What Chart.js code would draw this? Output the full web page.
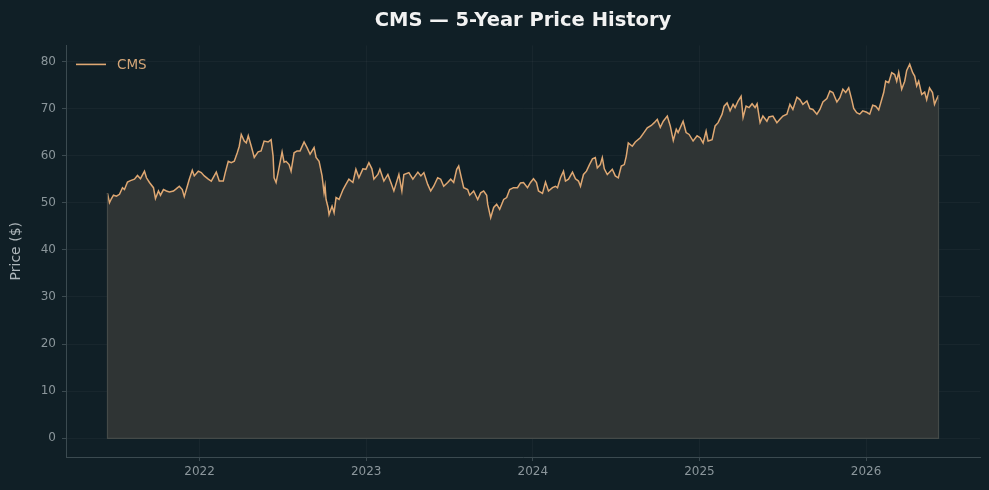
<!DOCTYPE html>
<html>
<head>
<meta charset="utf-8">
<script src="https://cdn.jsdelivr.net/npm/chart.js@4.4.1/dist/chart.umd.min.js"></script>
<style>
  html,body{margin:0;padding:0;background:#101f26;}
  #wrap{width:989px;height:490px;position:relative;}
</style>
</head>
<body>
<div id="wrap"><canvas id="chart" width="989" height="490"></canvas></div>
<script>
// ---- data (decimal years / close price) ----
const TICKER = "CMS";
const YEAR_TICKS = [2022, 2023, 2024, 2025, 2026];
const Y_TICKS = [0, 10, 20, 30, 40, 50, 60, 70, 80];

const T = [
  2021.447,2021.459,2021.471,2021.483,2021.501,2021.519,2021.537,2021.549,2021.567,2021.585,
  2021.609,2021.627,2021.645,2021.669,2021.681,2021.699,2021.723,2021.735,2021.753,2021.765,
  2021.783,2021.801,2021.819,2021.843,2021.861,2021.878,2021.896,2021.908,2021.926,2021.938,
  2021.956,2021.968,2021.992,2022.010,2022.028,2022.052,2022.070,2022.100,2022.118,2022.142,
  2022.154,2022.172,2022.190,2022.208,2022.226,2022.238,2022.250,2022.268,2022.280,2022.292,
  2022.310,2022.328,2022.351,2022.369,2022.387,2022.411,2022.429,2022.441,2022.447,2022.459,
  2022.471,2022.495,2022.507,2022.519,2022.537,2022.549,2022.567,2022.585,2022.603,2022.627,
  2022.645,2022.663,2022.687,2022.699,2022.717,2022.735,2022.747,2022.753,2022.759,2022.771,
  2022.777,2022.795,2022.807,2022.819,2022.837,2022.861,2022.878,2022.896,2022.920,2022.938,
  2022.956,2022.980,2022.998,2023.016,2023.034,2023.046,2023.070,2023.082,2023.106,2023.130,
  2023.148,2023.166,2023.178,2023.196,2023.214,2023.226,2023.256,2023.280,2023.310,2023.328,
  2023.346,2023.369,2023.387,2023.405,2023.429,2023.447,2023.465,2023.489,2023.507,2023.525,
  2023.543,2023.555,2023.573,2023.585,2023.609,2023.621,2023.645,2023.669,2023.687,2023.705,
  2023.723,2023.729,2023.747,2023.765,2023.783,2023.801,2023.825,2023.843,2023.861,2023.884,
  2023.908,2023.926,2023.944,2023.968,2023.986,2024.004,2024.022,2024.034,2024.058,2024.076,
  2024.094,2024.118,2024.136,2024.148,2024.166,2024.184,2024.196,2024.214,2024.238,2024.256,
  2024.274,2024.286,2024.304,2024.322,2024.340,2024.358,2024.375,2024.387,2024.405,2024.417,
  2024.429,2024.447,2024.477,2024.495,2024.513,2024.531,2024.549,2024.561,2024.573,2024.597,
  2024.615,2024.645,2024.669,2024.687,2024.711,2024.729,2024.747,2024.765,2024.783,2024.807,
  2024.825,2024.843,2024.861,2024.872,2024.902,2024.920,2024.938,2024.962,2024.986,2025.004,
  2025.022,2025.040,2025.052,2025.076,2025.094,2025.112,2025.136,2025.148,2025.166,2025.184,
  2025.202,2025.214,2025.232,2025.250,2025.262,2025.280,2025.298,2025.316,2025.334,2025.346,
  2025.364,2025.381,2025.405,2025.417,2025.441,2025.465,2025.483,2025.501,2025.525,2025.543,
  2025.561,2025.585,2025.603,2025.621,2025.645,2025.663,2025.681,2025.705,2025.723,2025.741,
  2025.765,2025.783,2025.801,2025.825,2025.843,2025.861,2025.878,2025.896,2025.914,2025.926,
  2025.944,2025.962,2025.980,2026.004,2026.022,2026.040,2026.058,2026.076,2026.094,2026.106,
  2026.118,2026.136,2026.154,2026.172,2026.184,2026.196,2026.214,2026.232,2026.244,2026.262,
  2026.280,2026.292,2026.304,2026.316,2026.334,2026.352,2026.364,2026.381,2026.399,2026.411,
  2026.423,2026.435
];

const PRICE = [
  52.0,50.0,50.9,51.6,51.4,51.8,53.2,52.8,54.4,54.7,
  55.0,55.8,55.1,56.7,55.3,54.3,53.2,50.9,52.5,51.6,
  52.8,52.5,52.3,52.5,53.0,53.5,52.8,51.3,53.5,55.0,
  56.9,55.7,56.7,56.4,55.7,55.0,54.6,56.5,54.6,54.6,
  56.4,58.8,58.5,58.8,60.6,62.0,64.5,63.1,62.7,64.2,
  62.0,59.6,60.8,61.0,63.1,62.9,63.4,59.9,55.3,54.3,
  56.4,60.8,58.6,58.8,58.1,56.7,60.6,61.0,61.0,62.9,
  61.7,60.3,61.7,59.6,58.8,55.7,52.1,53.5,50.7,49.0,
  47.5,49.3,47.9,51.1,50.7,52.8,53.9,55.0,54.3,57.1,
  55.3,57.2,57.1,58.5,57.2,55.0,56.0,57.1,54.6,56.0,
  54.3,52.5,53.9,56.0,52.5,56.0,56.4,55.0,56.5,55.7,
  56.4,53.9,52.5,53.5,55.3,55.0,53.5,54.3,55.0,54.3,
  57.1,57.8,55.0,53.2,52.8,51.6,52.5,50.7,52.1,52.5,
  51.6,49.7,46.8,49.0,49.7,48.6,50.7,51.1,52.8,53.2,
  53.2,54.2,54.3,53.2,54.3,55.1,54.3,52.5,52.0,54.4,
  52.5,53.2,53.5,53.2,55.3,56.7,54.6,55.0,56.5,55.1,
  54.6,53.5,56.0,56.7,58.1,59.3,59.6,57.4,58.1,59.6,
  57.2,56.0,57.1,55.7,55.3,57.8,58.1,59.9,62.7,62.0,
  62.9,63.8,65.0,65.9,66.4,67.0,67.7,66.0,67.3,68.4,
  66.3,63.2,65.6,64.9,67.3,64.9,64.5,63.1,64.2,63.8,
  62.7,65.2,63.1,63.4,66.3,67.0,68.8,70.5,71.2,69.5,
  70.9,70.2,71.6,72.6,68.1,70.5,70.2,71.0,70.2,71.0,
  67.0,68.4,67.3,68.2,68.4,67.0,67.7,68.4,68.8,70.9,
  69.8,72.4,71.9,70.9,71.6,70.0,69.8,68.8,69.8,71.4,
  72.1,73.7,73.4,71.4,72.3,74.1,73.4,74.4,71.9,70.0,
  69.1,68.8,69.5,69.2,68.8,70.7,70.5,69.7,71.9,73.4,
  75.8,75.5,77.6,77.2,75.8,77.7,74.1,75.8,78.1,79.4,
  77.6,76.9,74.8,75.8,73.0,73.5,71.9,74.4,73.4,70.9,
  71.9,72.8
];

// ---- styling ----
const BG = "#101f26";
const LINE = "#dfa873";
const FILL = "#2f3434";
const EDGE = "#444a48";
const GRID = "rgba(255,255,255,0.035)";
const SPINE = "#3b4a50";
const TICK_TXT = "#8b969b";
const FONT = "DejaVu Sans";

const points = T.map((t, i) => ({x: t, y: PRICE[i]}));

// background + edge of the filled area + inline legend
const extras = {
  id: "extras",
  beforeDraw(chart){
    const c = chart.ctx;
    c.save();
    c.fillStyle = BG;
    c.fillRect(0, 0, chart.width, chart.height);
    c.restore();
  },
  afterDatasetsDraw(chart){
    const c = chart.ctx, xs = chart.scales.x, ys = chart.scales.y;
    const x0 = xs.getPixelForValue(T[0]), x1 = xs.getPixelForValue(T[T.length-1]);
    const yz = ys.getPixelForValue(0);
    c.save();
    c.strokeStyle = EDGE;
    c.lineWidth = 1.2;
    c.beginPath();
    c.moveTo(x0, ys.getPixelForValue(PRICE[0]));
    c.lineTo(x0, yz);
    c.lineTo(x1, yz);
    c.lineTo(x1, ys.getPixelForValue(PRICE[PRICE.length-1]));
    c.stroke();
    // legend
    const a = chart.chartArea;
    const ly = a.top + 19;
    c.strokeStyle = LINE;
    c.lineWidth = 1.6;
    c.beginPath();
    c.moveTo(a.left + 10, ly);
    c.lineTo(a.left + 40, ly);
    c.stroke();
    c.fillStyle = "#d3a577";
    c.font = "13.5px '" + FONT + "'";
    c.textBaseline = "middle";
    c.fillText(TICKER, a.left + 51, ly + 1);
    c.restore();
  }
};

new Chart(document.getElementById("chart"), {
  type: "line",
  data: {
    datasets: [{
      label: TICKER,
      data: points,
      borderColor: LINE,
      backgroundColor: FILL,
      borderWidth: 1.5,
      fill: "origin",
      pointRadius: 0,
      tension: 0
    }]
  },
  options: {
    responsive: false,
    animation: false,
    devicePixelRatio: 1,
    layout: { padding: { left: 0, right: 9, top: 0, bottom: 0 } },
    plugins: {
      legend: { display: false },
      tooltip: { enabled: false },
      title: {
        display: true,
        fullSize: false,
        text: TICKER + " — 5-Year Price History",
        color: "#f2f2f2",
        font: { family: FONT, size: 19.5, weight: "bold" },
        padding: { top: 9, bottom: 13 }
      }
    },
    scales: {
      x: {
        type: "linear",
        min: 2021.198, max: 2026.684,
        afterBuildTicks: ax => { ax.ticks = YEAR_TICKS.map(v => ({value: v})); },
        afterFit: ax => { ax.height = 33; },
        ticks: { color: TICK_TXT, font: { family: FONT, size: 12 }, padding: 4,
                 callback: v => String(v), maxRotation: 0 },
        grid: { color: GRID, tickColor: SPINE, tickLength: 4, drawTicks: true },
        border: { color: SPINE, width: 1 }
      },
      y: {
        min: -3.97, max: 83.4,
        afterBuildTicks: ax => { ax.ticks = Y_TICKS.map(v => ({value: v})); },
        afterFit: ax => { ax.width = 66; },
        ticks: { color: TICK_TXT, font: { family: FONT, size: 12 }, padding: 6 },
        grid: { color: GRID, tickColor: SPINE, tickLength: 4, drawTicks: true },
        border: { color: SPINE, width: 1 },
        title: { display: true, text: "Price ($)", color: "#aeb6ba",
                 font: { family: FONT, size: 14 }, padding: { top: 8, bottom: 4 } }
      }
    }
  },
  plugins: [extras]
});
</script>
</body>
</html>
